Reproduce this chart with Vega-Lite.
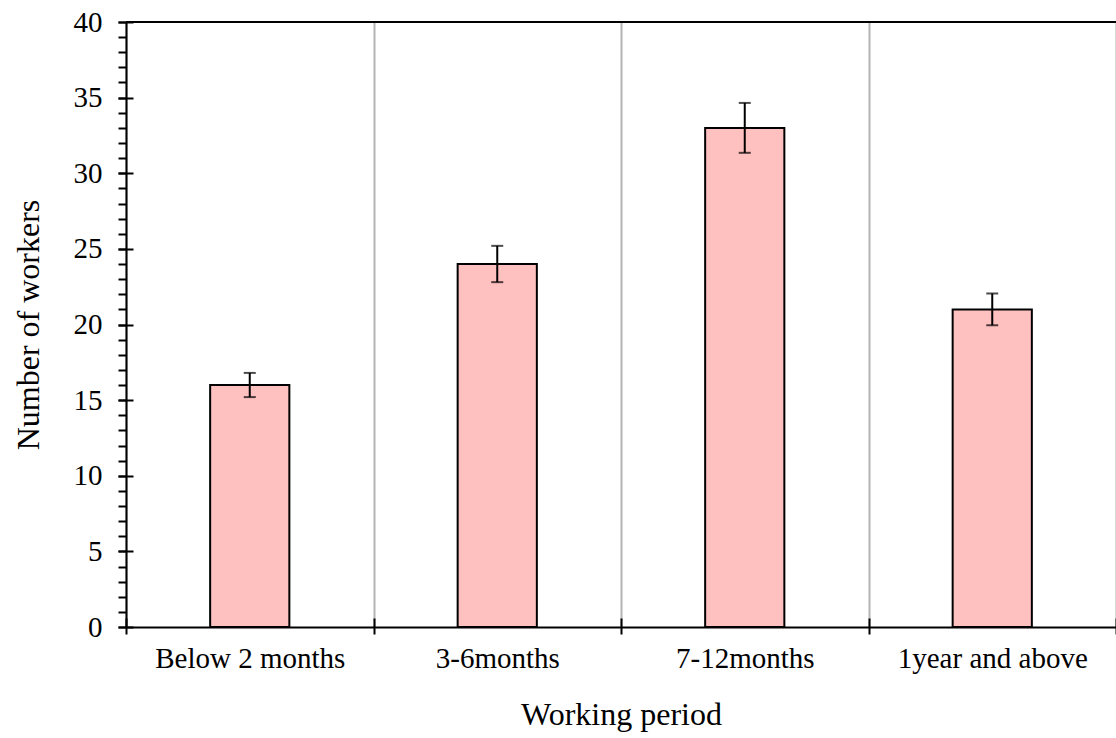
{
  "$schema": "https://vega.github.io/schema/vega-lite/v6.json",
  "width": 990,
  "height": 605,
  "autosize": "none",
  "padding": {"left": 126, "top": 22, "right": 0, "bottom": 111},
  "background": "white",
  "config": {
    "view": {"stroke": null},
    "font": "Liberation Serif",
    "axis": {
      "labelFont": "Liberation Serif",
      "titleFont": "Liberation Serif",
      "labelColor": "black",
      "titleColor": "black",
      "titleFontWeight": "normal",
      "domainColor": "black",
      "domainWidth": 2,
      "tickColor": "black",
      "tickWidth": 2
    }
  },
  "data": {
    "values": [
      {"period": "Below 2 months", "workers": 16, "lo": 15.2, "hi": 16.8},
      {"period": "3-6months", "workers": 24, "lo": 22.8, "hi": 25.2},
      {"period": "7-12months", "workers": 33, "lo": 31.35, "hi": 34.65},
      {"period": "1year and above", "workers": 21, "lo": 19.95, "hi": 22.05}
    ]
  },
  "resolve": {"axis": {"x": "independent", "y": "independent"}},
  "layer": [
    {
      "mark": {"type": "bar", "fill": "#ffc0c0", "stroke": "black", "strokeWidth": 2, "width": {"band": 0.32}},
      "encoding": {
        "x": {
          "field": "period",
          "type": "nominal",
          "sort": null,
          "scale": {"paddingInner": 0, "paddingOuter": 0},
          "axis": {
            "orient": "bottom",
            "title": "Working period",
            "titleFontSize": 32,
            "titlePadding": 26,
            "labelFontSize": 29,
            "labelLimit": 400,
            "labelAngle": 0,
            "labelPadding": 10,
            "tickBand": "extent",
            "tickSize": 7,
            "grid": true,
            "gridColor": "#b4b4b4",
            "gridWidth": 2
          }
        },
        "y": {
          "field": "workers",
          "type": "quantitative",
          "scale": {"domain": [0, 40], "nice": false},
          "axis": {
            "orient": "left",
            "title": "Number of workers",
            "titleFontSize": 32,
            "titlePadding": 28,
            "labelFontSize": 29,
            "labelPadding": 16,
            "values": [0, 5, 10, 15, 20, 25, 30, 35, 40],
            "tickSize": 8,
            "grid": false
          }
        }
      }
    },
    {
      "mark": {"type": "rule", "color": "black", "strokeWidth": 2},
      "encoding": {
        "x": {
          "field": "period",
          "type": "nominal",
          "sort": null,
          "axis": {
            "orient": "bottom",
            "title": null,
            "labels": false,
            "domain": false,
            "grid": false,
            "tickBand": "extent",
            "tickSize": -9
          }
        },
        "y": {
          "field": "lo",
          "type": "quantitative",
          "axis": {
            "orient": "left",
            "title": null,
            "labels": false,
            "domain": false,
            "grid": false,
            "values": [0, 1, 2, 3, 4, 5, 6, 7, 8, 9, 10, 11, 12, 13, 14, 15, 16, 17, 18, 19, 20, 21, 22, 23, 24, 25, 26, 27, 28, 29, 30, 31, 32, 33, 34, 35, 36, 37, 38, 39, 40],
            "tickSize": 8
          }
        },
        "y2": {"field": "hi"}
      }
    },
    {
      "mark": {"type": "tick", "color": "black", "thickness": 2, "size": 12},
      "encoding": {
        "x": {"field": "period", "type": "nominal", "sort": null, "axis": null},
        "y": {
          "field": "lo",
          "type": "quantitative",
          "axis": {
            "orient": "left",
            "title": null,
            "labels": false,
            "domain": false,
            "grid": false,
            "values": [0, 5, 10, 15, 20, 25, 30, 35, 40],
            "tickSize": -7
          }
        }
      }
    },
    {
      "mark": {"type": "tick", "color": "black", "thickness": 2, "size": 12},
      "encoding": {
        "x": {"field": "period", "type": "nominal", "sort": null, "axis": null},
        "y": {"field": "hi", "type": "quantitative", "axis": null}
      }
    },
    {
      "data": {"values": [{"top": 40}]},
      "mark": {"type": "rule", "color": "black", "strokeWidth": 2},
      "encoding": {"y": {"field": "top", "type": "quantitative", "axis": null}}
    }
  ]
}
